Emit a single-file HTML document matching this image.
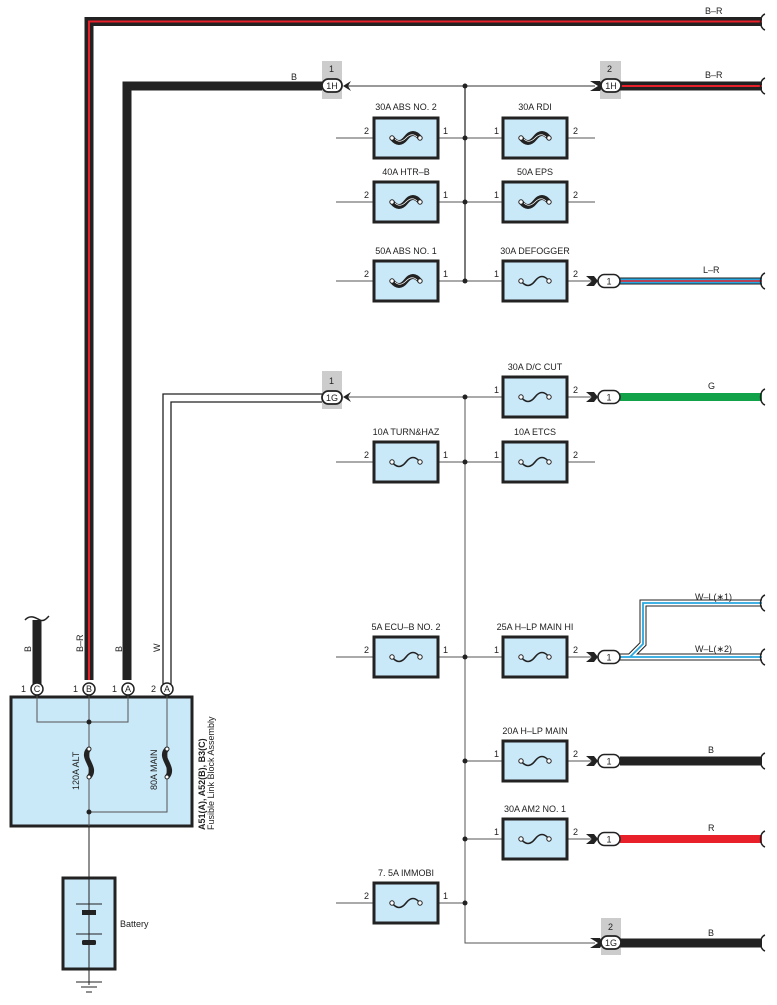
<!DOCTYPE html>
<html><head><meta charset="utf-8"><style>
html,body{margin:0;padding:0;background:#fff}
svg{display:block}
text{font-family:"Liberation Sans",sans-serif;font-size:9px;fill:#222}
</style></head><body>
<svg width="777" height="1005" viewBox="0 0 777 1005" xmlns="http://www.w3.org/2000/svg">
<defs>
<g id="fz"><rect x="0" y="-20" width="64" height="40" fill="#c9e8f8" stroke="#222" stroke-width="3"/>
<path d="M18 0 Q25 9,32 0 T46 0" fill="none" stroke="#222" stroke-width="1.6"/>
<circle cx="18" cy="0" r="2.2" fill="#fff" stroke="#222"/><circle cx="46" cy="0" r="2.2" fill="#fff" stroke="#222"/></g>
<g id="fb"><rect x="0" y="-20" width="64" height="40" fill="#c9e8f8" stroke="#222" stroke-width="3"/>
<path d="M18 0 Q25 9,32 0 T46 0" fill="none" stroke="#222" stroke-width="5"/>
<path d="M21 1 Q26 6,32 0 T43 -1" fill="none" stroke="#fff" stroke-width="0.8"/>
<circle cx="18" cy="0" r="2.2" fill="#fff" stroke="#222"/><circle cx="46" cy="0" r="2.2" fill="#fff" stroke="#222"/></g>
<g id="cn"><path d="M-16 -5 L-10 0 L-16 5 L-8 5 L-4 0 L-8 -5Z" fill="#222"/>
<rect x="-4" y="-6.5" width="22" height="13" rx="6.5" fill="#fff" stroke="#222" stroke-width="1.6"/>
<text x="7" y="3.5" text-anchor="middle">1</text></g>
<path id="br" d="M0 -8 C-6 -6,-6 6,0 8" fill="none" stroke="#222" stroke-width="1.5"/>
</defs>

<path d="M89 680 V21.5 H762" fill="none" stroke="#222" stroke-width="9"/>
<path d="M89 680 V21.5 H762" fill="none" stroke="#e8202a" stroke-width="2"/>
<use href="#br" x="765" y="22"/><text x="705" y="14">B–R</text>
<path d="M127 680 V86 H322" fill="none" stroke="#222" stroke-width="9"/>
<text x="291" y="80">B</text>
<rect x="322" y="61" width="20" height="38" fill="#ccc"/>
<text x="329" y="72">1</text>
<rect x="322" y="79" width="20" height="13" rx="6.5" fill="#fff" stroke="#222" stroke-width="1.8"/>
<text x="332" y="89" text-anchor="middle" font-size="8">1H</text>
<path d="M343 86 L351 81 L348 86 L351 91Z" fill="#222"/>
<line x1="348" y1="86" x2="595" y2="86" stroke="#333" stroke-width="1"/>
<line x1="465" y1="86" x2="465" y2="281" stroke="#333" stroke-width="1.3"/>
<rect x="600" y="61" width="21" height="38" fill="#ccc"/><text x="607" y="72">2</text>
<path d="M590 81 L598 86 L590 91 L600 91 L603 86 L600 81Z" fill="#222"/>
<path d="M620 86 H762" stroke="#222" stroke-width="9"/><path d="M620 86 H762" stroke="#e8202a" stroke-width="2"/>
<rect x="601" y="79" width="20" height="13" rx="6.5" fill="#fff" stroke="#222" stroke-width="1.8"/>
<text x="611" y="89" text-anchor="middle" font-size="8">1H</text>
<use href="#br" x="765" y="86"/><text x="705" y="78">B–R</text>

<g stroke="#555" stroke-width="1">
<line x1="336" y1="138" x2="595" y2="138"/><line x1="336" y1="202" x2="595" y2="202"/>
<line x1="336" y1="281" x2="595" y2="281"/>
<line x1="348" y1="397" x2="595" y2="397"/>
<line x1="336" y1="462" x2="595" y2="462"/>
<line x1="336" y1="657" x2="595" y2="657"/>
<line x1="465" y1="761" x2="595" y2="761"/><line x1="465" y1="839" x2="595" y2="839"/>
<line x1="336" y1="903" x2="465" y2="903"/>
<path d="M465 397 V943 H595" fill="none"/>
</g>
<g fill="#222">
<circle cx="465" cy="86" r="2.5"/><circle cx="465" cy="138" r="2.5"/><circle cx="465" cy="202" r="2.5"/><circle cx="465" cy="281" r="2.5"/>
<circle cx="465" cy="397" r="2.5"/><circle cx="465" cy="462" r="2.5"/><circle cx="465" cy="657" r="2.5"/><circle cx="465" cy="761" r="2.5"/><circle cx="465" cy="839" r="2.5"/><circle cx="465" cy="903" r="2.5"/>
</g>

<use href="#fb" x="374" y="138"/><use href="#fb" x="503" y="138"/>
<use href="#fb" x="374" y="202"/><use href="#fb" x="503" y="202"/>
<use href="#fb" x="374" y="281"/><use href="#fz" x="503" y="281"/>
<use href="#fz" x="503" y="397"/>
<use href="#fz" x="374" y="462"/><use href="#fz" x="503" y="462"/>
<use href="#fz" x="374" y="657"/><use href="#fz" x="503" y="657"/>
<use href="#fz" x="503" y="761"/><use href="#fz" x="503" y="839"/>
<use href="#fz" x="374" y="903"/>
<g text-anchor="middle">
<text x="406" y="110">30A ABS NO. 2</text><text x="535" y="110">30A RDI</text>
<text x="406" y="175">40A HTR–B</text><text x="535" y="175">50A EPS</text>
<text x="406" y="254">50A ABS NO. 1</text><text x="535" y="254">30A DEFOGGER</text>
<text x="535" y="370">30A D/C CUT</text>
<text x="406" y="435">10A TURN&amp;HAZ</text><text x="535" y="435">10A ETCS</text>
<text x="406" y="630">5A ECU–B NO. 2</text><text x="535" y="630">25A H–LP MAIN HI</text>
<text x="535" y="734">20A H–LP MAIN</text><text x="535" y="812">30A AM2 NO. 1</text>
<text x="406" y="876">7. 5A IMMOBI</text>
</g>
<g>
<text x="364" y="134">2</text><text x="443" y="134">1</text><text x="494" y="134">1</text><text x="573" y="134">2</text>
<text x="364" y="198">2</text><text x="443" y="198">1</text><text x="494" y="198">1</text><text x="573" y="198">2</text>
<text x="364" y="277">2</text><text x="443" y="277">1</text><text x="494" y="277">1</text><text x="573" y="277">2</text>
<text x="494" y="393">1</text><text x="573" y="393">2</text>
<text x="364" y="458">2</text><text x="443" y="458">1</text><text x="494" y="458">1</text><text x="573" y="458">2</text>
<text x="364" y="653">2</text><text x="443" y="653">1</text><text x="494" y="653">1</text><text x="573" y="653">2</text>
<text x="494" y="757">1</text><text x="573" y="757">2</text>
<text x="494" y="835">1</text><text x="573" y="835">2</text>
<text x="364" y="899">2</text><text x="443" y="899">1</text>
</g>

<path d="M620 281 H762" stroke="#222" stroke-width="7"/><path d="M620 281 H762" stroke="#27a8e0" stroke-width="5"/><path d="M620 281 H762" stroke="#e8202a" stroke-width="1.5"/>
<use href="#cn" x="602" y="281"/><use href="#br" x="765" y="281"/><text x="703" y="273">L–R</text>
<path d="M620 397 H762" stroke="#12a24a" stroke-width="8"/>
<use href="#cn" x="602" y="397"/><use href="#br" x="765" y="397"/><text x="708" y="389">G</text>
<path d="M620 657 H762 M630 657 L643 644 V603 H762" fill="none" stroke="#222" stroke-width="7"/>
<path d="M620 657 H762 M630 657 L643 644 V603 H762" fill="none" stroke="#fff" stroke-width="5"/>
<path d="M620 657 H762 M630 657 L643 644 V603 H762" fill="none" stroke="#27a8e0" stroke-width="1.8"/>
<use href="#cn" x="602" y="657"/><use href="#br" x="765" y="657"/><use href="#br" x="765" y="603"/>
<text x="695" y="600">W–L(∗1)</text><text x="695" y="652">W–L(∗2)</text>
<path d="M620 761 H762" stroke="#222" stroke-width="9"/>
<use href="#cn" x="602" y="761"/><use href="#br" x="765" y="761"/><text x="708" y="753">B</text>
<path d="M620 839 H762" stroke="#e8202a" stroke-width="8"/>
<use href="#cn" x="602" y="839"/><use href="#br" x="765" y="839"/><text x="708" y="831">R</text>
<rect x="601" y="918" width="20" height="37" fill="#ccc"/><text x="608" y="930">2</text>
<path d="M590 938 L598 943 L590 948 L600 948 L603 943 L600 938Z" fill="#222"/>
<path d="M620 943 H762" stroke="#222" stroke-width="9"/>
<rect x="601" y="936" width="20" height="13" rx="6.5" fill="#fff" stroke="#222" stroke-width="1.8"/>
<text x="611" y="946" text-anchor="middle" font-size="8">1G</text>
<use href="#br" x="765" y="943"/><text x="708" y="936">B</text>

<path d="M163 684 V394 H325 M171 684 V402 H325" fill="none" stroke="#222" stroke-width="1.3"/>
<rect x="322" y="371" width="20" height="38" fill="#ccc"/><text x="329" y="384">1</text>
<rect x="322" y="391" width="20" height="13" rx="6.5" fill="#fff" stroke="#222" stroke-width="1.8"/>
<text x="332" y="401" text-anchor="middle" font-size="8">1G</text>
<path d="M343 397 L351 392 L348 397 L351 402Z" fill="#222"/>

<path d="M37 684 V620" stroke="#222" stroke-width="9"/>
<path d="M25 620 C30 614,36 618,40 620 C44 622,47 618,49 616" fill="none" stroke="#222" stroke-width="1.5"/>

<rect x="11" y="697" width="181" height="129" fill="#c9e8f8" stroke="#222" stroke-width="3"/>
<g fill="none" stroke="#555" stroke-width="1">
<path d="M37 689 V722 H128 V689"/><path d="M89 689 V826"/><path d="M167 689 V812 H89"/>
</g>
<g fill="#222"><circle cx="89" cy="722" r="2.5"/><circle cx="89" cy="812" r="2.5"/></g>
<path d="M89 749 C80 758,98 767,89 777" stroke="#222" stroke-width="5" fill="none"/>
<path d="M167 749 C158 758,176 767,167 777" stroke="#222" stroke-width="5" fill="none"/>
<g fill="#fff" stroke="#222"><circle cx="89" cy="749" r="2"/><circle cx="89" cy="777" r="2"/><circle cx="167" cy="749" r="2"/><circle cx="167" cy="777" r="2"/></g>
<text transform="translate(79,790) rotate(-90)">120A ALT</text>
<text transform="translate(157,790) rotate(-90)">80A MAIN</text>
<text transform="translate(205,830) rotate(-90)" font-weight="bold">A51(A), A52(B), B3(C)</text>
<text transform="translate(214,830) rotate(-90)">Fusible Link Block Assembly</text>
<g fill="#fff" stroke="#222" stroke-width="1.5">
<circle cx="37" cy="689" r="6"/><circle cx="89" cy="689" r="6"/><circle cx="128" cy="689" r="6"/><circle cx="167" cy="689" r="6"/></g>
<g text-anchor="middle" font-size="8"><text x="37" y="692">C</text><text x="89" y="692">B</text><text x="128" y="692">A</text><text x="167" y="692">A</text></g>
<text x="21" y="692">1</text><text x="73" y="692">1</text><text x="112" y="692">1</text><text x="151" y="692">2</text>
<text transform="translate(31,652) rotate(-90)">B</text>
<text transform="translate(83,652) rotate(-90)">B–R</text>
<text transform="translate(122,652) rotate(-90)">B</text>
<text transform="translate(160,652) rotate(-90)">W</text>

<line x1="89" y1="826" x2="89" y2="985" stroke="#222" stroke-width="1"/>
<rect x="63" y="878" width="52" height="91" fill="#c9e8f8" stroke="#222" stroke-width="3"/>
<line x1="89" y1="878" x2="89" y2="969" stroke="#222" stroke-width="1"/>
<line x1="76" y1="904" x2="102" y2="904" stroke="#222"/>
<rect x="82" y="910" width="14" height="5" fill="#222"/>
<line x1="76" y1="934" x2="102" y2="934" stroke="#222"/>
<rect x="82" y="940" width="14" height="5" rx="1.5" fill="#222"/>
<text x="120" y="927">Battery</text>
<g stroke="#222"><line x1="76" y1="982" x2="102" y2="982"/><line x1="81" y1="987" x2="97" y2="987"/><line x1="86" y1="992" x2="92" y2="992"/></g>
</svg>
</body></html>
